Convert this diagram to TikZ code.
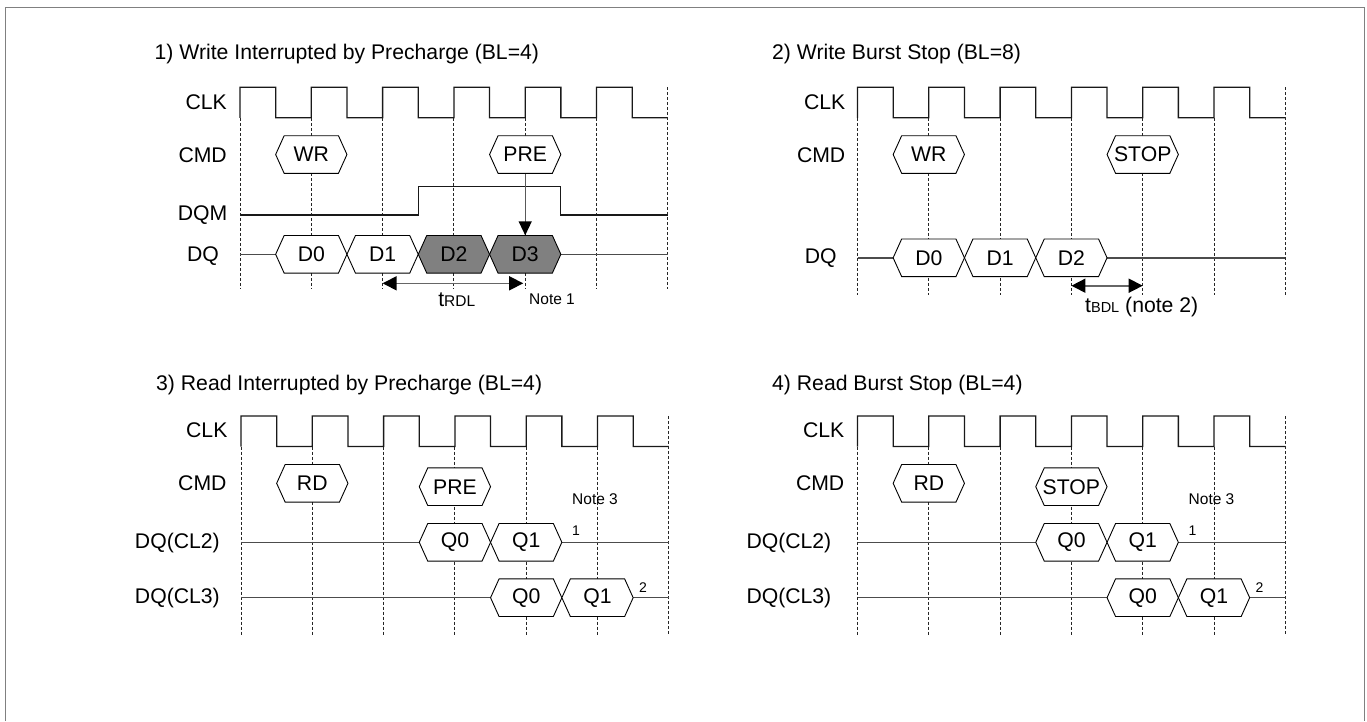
\documentclass[tikz,border=0pt]{standalone}
\usepackage{fontspec}
\setmainfont{Liberation Sans}
\usetikzlibrary{arrows.meta}
\usepackage{xcolor}
\definecolor{burstgray}{RGB}{128,128,128}
\definecolor{framegray}{RGB}{128,128,128}

% clock period
\def\Tc{71.3}
% hexagon: name, x, y, fill, text
\newcommand{\hexsig}[5]{%
  \filldraw[hexline, fill=#4] (#2-35.65,#3) -- (#2-27.15,#3-18.8) -- (#2+27.15,#3-18.8)
    -- (#2+35.65,#3) -- (#2+27.15,#3+18.8) -- (#2-27.15,#3+18.8) -- cycle;
  \node[hexlbl] (#1) at (#2,#3) {#5};
}

\begin{document}
\begin{tikzpicture}[
x=1pt, y=-1pt,
every node/.style={font=\fontsize{21.2}{25}\selectfont, inner sep=1pt},
ttl/.style={anchor=west},
lbl/.style={anchor=east},
note/.style={font=\fontsize{15.5}{18}\selectfont},
sup/.style={font=\fontsize{14}{16}\selectfont},
hexlbl/.style={inner sep=0pt, minimum height=37.6pt},
hexline/.style={line width=0.9pt, draw=black},
clkline/.style={line width=1.3pt, black!90},
gridln/.style={line width=1pt, black!85, dash pattern=on 3pt off 2pt},
sigline/.style={line width=1.2pt, black!90},
dqline/.style={line width=1.4pt, black!70},
cmdarr/.style={line width=1.4pt, black!65, -{Triangle[length=14pt,width=13pt,color=black]}},
timarr/.style={line width=1.6pt, black!60, {Triangle[length=14pt,width=14pt,color=black]}-{Triangle[length=14pt,width=14pt,color=black]}},
]
\useasboundingbox (0,0) rectangle (1367,721);
% frame
\draw[framegray, line width=1.5pt] (5.5,721) -- (5.5,7.7) -- (1364.3,7.7) -- (1364.3,721);

% 1) write interrupted by precharge
\begin{scope}[shift={(240,87.3)}]
\node[ttl] (t1) at (-86.5,-33) {1) Write Interrupted by Precharge (BL=4)};
\node[lbl] (clk1) at (-12,14.4) {CLK};
\node[lbl] (cmd1) at (-12,67.7) {CMD};
\node[lbl] (dqm1) at (-11.4,127.7) {DQM};
\node[lbl] (dq1) at (-20,168.7) {DQ};
% clock and grid
\draw[clkline] (0,30.5) \foreach \k in {0,...,5} {-- (\k*\Tc,0) -- ++(\Tc/2,0) -- ++(0,30.5) -- ++(\Tc/2,0)};
\foreach \k in {0,...,5} \draw[gridln] (\k*\Tc,30.5) -- (\k*\Tc,202);
\draw[gridln] (6*\Tc,0) -- (6*\Tc,202);
% waveforms
\draw[sigline] (0,127.7) -| (2.5*\Tc,99) -| (4.5*\Tc,127.7) -- (6*\Tc,127.7);
\draw[dqline] (0,167) -- (0.5*\Tc,167) (4.5*\Tc,167) -- (6*\Tc,167);
\hexsig{wr1}{\Tc}{67.2}{white}{WR}
\hexsig{pre1}{4*\Tc}{67.2}{white}{PRE}
\hexsig{d01}{\Tc}{167}{white}{D0}
\hexsig{d11}{2*\Tc}{167}{white}{D1}
\hexsig{d21}{3*\Tc}{167}{burstgray}{D2}
\hexsig{d31}{4*\Tc}{167}{burstgray}{D3}
% arrows
\draw[cmdarr] (pre1) -- (d31);
\coordinate (rdl1a) at (2*\Tc,196);
\coordinate (rdl1b) at (4*\Tc-2,196);
\draw[timarr] (rdl1a) -- (rdl1b);
\node (trdl1) at (216.7,212.7) {t{\fontsize{15.5}{18}\selectfont RDL}};
\node[note, anchor=west] (note1) at (288,211.7) {Note 1};
\end{scope}

% 2) write burst stop
\begin{scope}[shift={(857.5,87.3)}]
\node[ttl] (t2) at (-86.5,-33) {2) Write Burst Stop (BL=8)};
\node[lbl] (clk2) at (-11,14.4) {CLK};
\node[lbl] (cmd2) at (-11,67.7) {CMD};
\node[lbl] (dq2) at (-19.7,171) {DQ};
% clock and grid
\draw[clkline] (0,30.5) \foreach \k in {0,...,5} {-- (\k*\Tc,0) -- ++(\Tc/2,0) -- ++(0,30.5) -- ++(\Tc/2,0)};
\foreach \k in {0,...,5} \draw[gridln] (\k*\Tc,30.5) -- (\k*\Tc,207.7);
\draw[gridln] (6*\Tc,0) -- (6*\Tc,207.7);
% waveforms
\draw[dqline] (0,170.5) -- (0.5*\Tc,170.5) (3.5*\Tc,170.5) -- (6*\Tc,170.5);
\hexsig{wr2}{\Tc}{67.2}{white}{WR}
\hexsig{stop2}{4*\Tc}{67.2}{white}{STOP}
\hexsig{d02}{\Tc}{170.5}{white}{D0}
\hexsig{d12}{2*\Tc}{170.5}{white}{D1}
\hexsig{d22}{3*\Tc}{170.5}{white}{D2}
% arrows
\coordinate (bdl2a) at (3*\Tc,198.4);
\coordinate (bdl2b) at (4*\Tc,198.4);
\draw[timarr] (bdl2a) -- (bdl2b);
\node[anchor=west] (tbdl2) at (226.5,219.4) {t{\fontsize{14.5}{17}\selectfont BDL} (note 2)};
\end{scope}

% 3) read interrupted by precharge
\begin{scope}[shift={(241,416)}]
\node[ttl] (t3) at (-86,-31) {3) Read Interrupted by Precharge (BL=4)};
\node[lbl] (clk3) at (-12.4,14) {CLK};
\node[lbl] (cmd3) at (-13.3,67.3) {CMD};
\node[lbl] (cla3) at (-20,126.7) {DQ(CL2)};
\node[lbl] (clb3) at (-20,181.7) {DQ(CL3)};
% clock and grid
\draw[clkline] (0,30.5) \foreach \k in {0,...,5} {-- (\k*\Tc,0) -- ++(\Tc/2,0) -- ++(0,30.5) -- ++(\Tc/2,0)};
\foreach \k in {0,...,5} \draw[gridln] (\k*\Tc,30.5) -- (\k*\Tc,219);
\draw[gridln] (6*\Tc,0) -- (6*\Tc,219);
% waveforms
\draw[dqline] (0,126.3) -- (2.5*\Tc,126.3) (4.5*\Tc,126.3) -- (6*\Tc,126.3);
\draw[dqline] (0,181.7) -- (3.5*\Tc,181.7) (5.5*\Tc,181.7) -- (6*\Tc,181.7);
\hexsig{rd3}{\Tc}{67.3}{white}{RD}
\hexsig{pre3}{3*\Tc}{70.7}{white}{PRE}
\hexsig{qa03}{3*\Tc}{126.3}{white}{Q0}
\hexsig{qa13}{4*\Tc}{126.3}{white}{Q1}
\hexsig{qb03}{4*\Tc}{181.7}{white}{Q0}
\hexsig{qb13}{5*\Tc}{181.7}{white}{Q1}
\node[note, anchor=west] (note3) at (330,83) {Note 3};
\node[sup] (s13) at (335,115) {1};
\node[sup] (s23) at (402,171.3) {2};
\end{scope}

% 4) read burst stop
\begin{scope}[shift={(857.5,416)}]
\node[ttl] (t4) at (-86.5,-31) {4) Read Burst Stop (BL=4)};
\node[lbl] (clk4) at (-12,14) {CLK};
\node[lbl] (cmd4) at (-12,67.3) {CMD};
\node[lbl] (cla4) at (-25,126.7) {DQ(CL2)};
\node[lbl] (clb4) at (-25,181.7) {DQ(CL3)};
% clock and grid
\draw[clkline] (0,30.5) \foreach \k in {0,...,5} {-- (\k*\Tc,0) -- ++(\Tc/2,0) -- ++(0,30.5) -- ++(\Tc/2,0)};
\foreach \k in {0,...,5} \draw[gridln] (\k*\Tc,30.5) -- (\k*\Tc,219);
\draw[gridln] (6*\Tc,0) -- (6*\Tc,219);
% waveforms
\draw[dqline] (0,126.3) -- (2.5*\Tc,126.3) (4.5*\Tc,126.3) -- (6*\Tc,126.3);
\draw[dqline] (0,181.7) -- (3.5*\Tc,181.7) (5.5*\Tc,181.7) -- (6*\Tc,181.7);
\hexsig{rd4}{\Tc}{67.3}{white}{RD}
\hexsig{stop4}{3*\Tc}{70.7}{white}{STOP}
\hexsig{qa04}{3*\Tc}{126.3}{white}{Q0}
\hexsig{qa14}{4*\Tc}{126.3}{white}{Q1}
\hexsig{qb04}{4*\Tc}{181.7}{white}{Q0}
\hexsig{qb14}{5*\Tc}{181.7}{white}{Q1}
\node[note, anchor=west] (note4) at (330,83) {Note 3};
\node[sup] (s14) at (335,115) {1};
\node[sup] (s24) at (402,171.3) {2};
\end{scope}
\end{tikzpicture}
\end{document}
